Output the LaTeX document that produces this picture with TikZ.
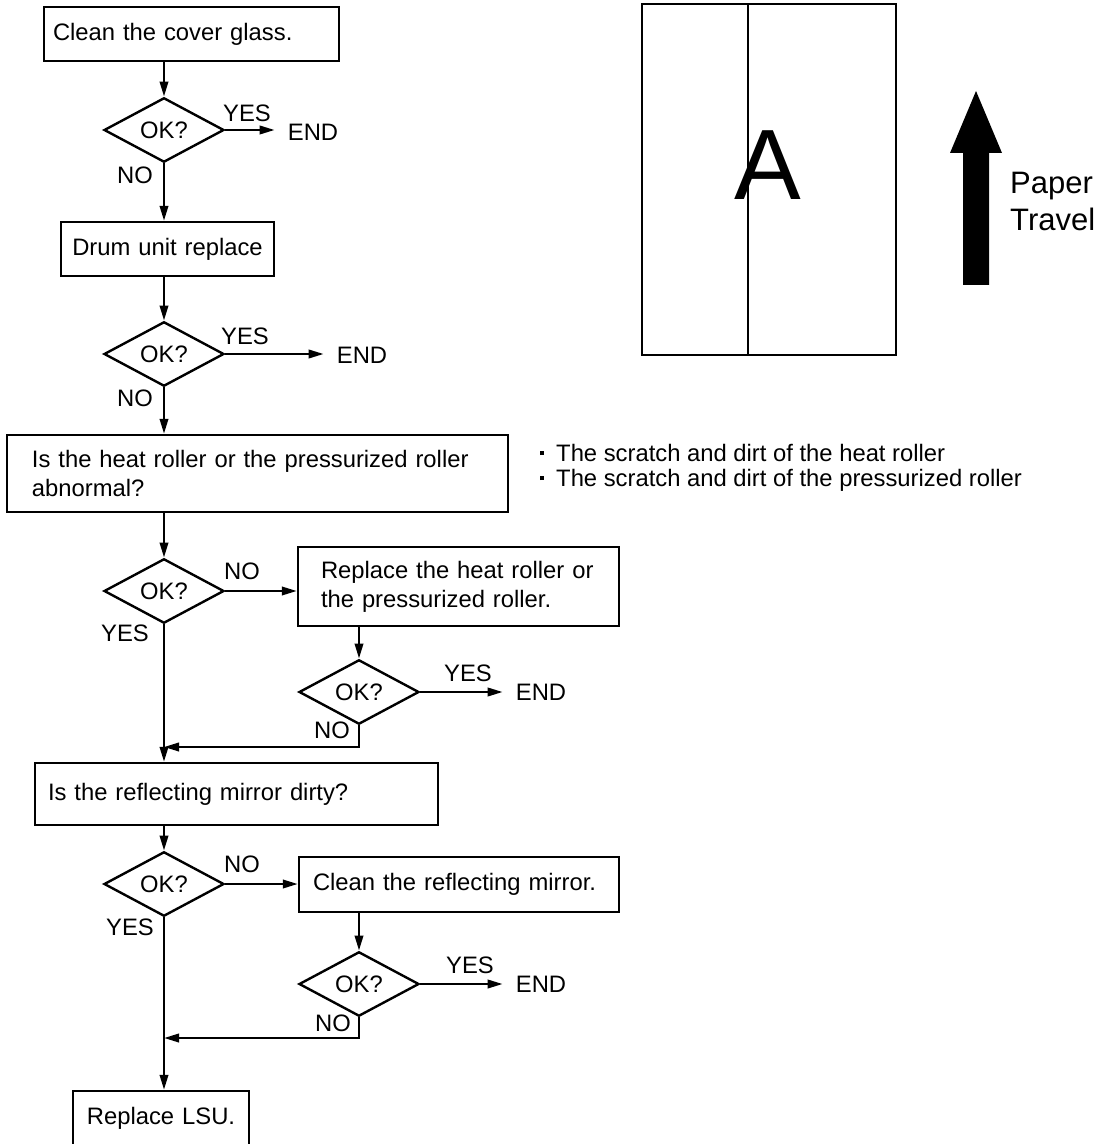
\documentclass[tikz,border=0pt]{standalone}
\usepackage{fontspec}
\setmainfont{Liberation Sans}
\usetikzlibrary{arrows.meta,shapes.geometric,positioning}

\begin{document}
\begin{tikzpicture}[x=0.5pt,y=-0.5pt,line width=1.2pt,
    txt/.style={font=\fontsize{11.9}{14.5}\selectfont,inner sep=0pt},
    box/.style={txt,draw,rectangle,align=left},
    ok/.style={txt,draw,diamond,minimum width=60pt,minimum height=26pt},
    fin/.style={txt,inner xsep=6pt},
    arr/.style={-{Triangle[length=7.5pt,width=4.2pt]}}]
  \newcommand\dotmark{\rule[3pt]{2pt}{2pt}\hspace{6pt}}
  \useasboundingbox (0,0) rectangle (1099,1144);
  % first checks
  \node[box,minimum width=147.5pt,minimum height=27pt,text width=138.5pt] (glass) at (191.5,34) {Clean the cover glass.};
  \node[ok] (ok1) at (164,130) {OK?};
  \node[fin] (end1) at (313,132) {END};
  \node[txt] (yes1) at (247,113) {YES};
  \node[txt] (no1) at (135,175) {NO};
  \node[box,align=center,minimum width=106.5pt,minimum height=27pt,text width=104pt] (drum) at (167.5,249) {Drum unit replace};
  \node[ok] (ok2) at (164,354) {OK?};
  \node[fin] (end2) at (362,355) {END};
  \node[txt] (yes2) at (245,336) {YES};
  \node[txt] (no2) at (135,398) {NO};
  \draw[arr] (glass.south -| ok1) -- (ok1.north);
  \draw[arr] (ok1.east) -- (ok1.east -| end1.west);
  \draw[arr] (ok1.south) -- (ok1.south |- drum.north);
  \draw[arr] (drum.south -| ok2) -- (ok2.north);
  \draw[arr] (ok2.east) -- (ok2.east -| end2.west);
  % rollers
  \node[box,minimum width=250.5pt,minimum height=38.5pt,text width=225.5pt] (heat) at (257.5,473.5) {Is the heat roller or the pressurized roller\\abnormal?};
  \node[txt,anchor=west,align=left,font=\fontsize{11.9}{12.5}\selectfont] (notes) at (539,467.5) {\dotmark The scratch and dirt of the heat roller\\\dotmark The scratch and dirt of the pressurized roller};
  \node[ok] (ok3) at (164,591) {OK?};
  \node[txt] (no3) at (242,571) {NO};
  \node[txt] (yes3) at (125,633) {YES};
  \node[box,minimum width=160.5pt,minimum height=39.5pt,text width=137.5pt] (fixroll) at (458.5,586.5) {Replace the heat roller or\\the pressurized roller.};
  \node[ok] (ok4) at (359,692) {OK?};
  \node[txt] (yes4) at (468,673) {YES};
  \node[fin] (end4) at (541,692) {END};
  \node[txt] (no4) at (332,730) {NO};
  \coordinate (join1) at (164,747);
  \draw[arr] (ok2.south) -- (ok2.south |- heat.north);
  \draw[arr] (heat.south -| ok3) -- (ok3.north);
  \draw[arr] (ok3.east) -- (ok3.east -| fixroll.west);
  \draw[arr] (fixroll.south -| ok4) -- (ok4.north);
  \draw[arr] (ok4.east) -- (ok4.east -| end4.west);
  \draw[arr] (ok4.south) |- (join1);
  % mirror
  \node[box,minimum width=201.5pt,minimum height=31pt,text width=188.5pt] (mirror) at (236.5,794) {Is the reflecting mirror dirty?};
  \node[ok] (ok5) at (164,884) {OK?};
  \node[txt] (no5) at (242,864) {NO};
  \node[txt] (yes5) at (130,927) {YES};
  \node[box,minimum width=160pt,minimum height=27.5pt,text width=146pt] (cleanmir) at (459,884.5) {Clean the reflecting mirror.};
  \node[ok] (ok6) at (359,984) {OK?};
  \node[txt] (yes6) at (470,965) {YES};
  \node[fin] (end6) at (541,984) {END};
  \node[txt] (no6) at (333,1023) {NO};
  \coordinate (join2) at (164,1038);
  \node[box,align=center,minimum width=88pt,minimum height=27.5pt,text width=86pt] (lsu) at (161,1118.5) {Replace LSU.};
  \draw[arr] (ok3.south) -- (ok3.south |- mirror.north);
  \draw[arr] (mirror.south -| ok5) -- (ok5.north);
  \draw[arr] (ok5.east) -- (ok5.east -| cleanmir.west);
  \draw[arr] (cleanmir.south -| ok6) -- (ok6.north);
  \draw[arr] (ok6.east) -- (ok6.east -| end6.west);
  \draw[arr] (ok6.south) |- (join2);
  \draw[arr] (ok5.south) -- (ok5.south |- lsu.north);
  % paper sheet and travel arrow
  \draw (642,4) rectangle (896,355);
  \draw (748,4) -- (748,355);
  \node[inner sep=0pt,font=\fontsize{50}{50}\selectfont] (letter) at (768,165) {A};
  \fill (963,285) -- (963,153) -- (950,153) -- (976,91) -- (1002,153) -- (989,153) -- (989,285) -- cycle;
  \node[inner sep=0pt,anchor=west,align=left,font=\fontsize{15.5}{18.5}\selectfont] (travel) at (1009,201.5) {Paper\\Travel};
\end{tikzpicture}
\end{document}
